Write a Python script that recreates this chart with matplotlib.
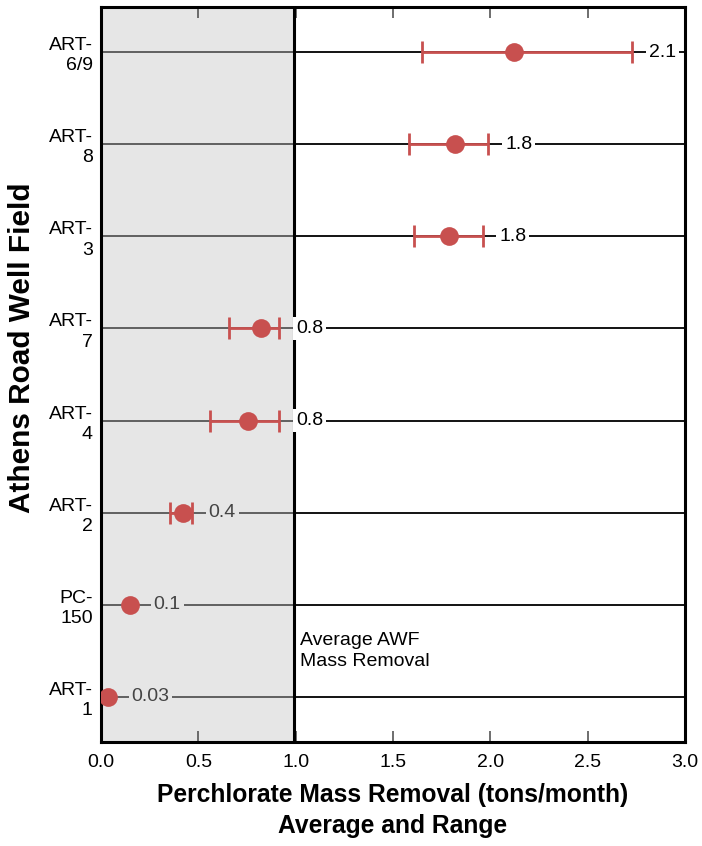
import matplotlib
matplotlib.use("Agg")
import matplotlib.pyplot as plt
import numpy as np

plt.rcParams['font.family'] = ['Liberation Sans', 'DejaVu Sans']

wells = ["ART-\n6/9", "ART-\n8", "ART-\n3", "ART-\n7", "ART-\n4", "ART-\n2", "PC-\n150", "ART-\n1"]
mean_vals = [2.12, 1.82, 1.79, 0.82, 0.755, 0.42, 0.149, 0.035]
low_vals = [1.65, 1.58, 1.61, 0.66, 0.56, 0.355, None, None]
high_vals = [2.73, 1.99, 1.96, 0.915, 0.915, 0.467, None, None]
value_labels = ["2.1", "1.8", "1.8", "0.8", "0.8", "0.4", "0.1", "0.03"]
avg_awf = 0.99
xticks = [0.0, 0.5, 1.0, 1.5, 2.0, 2.5, 3.0]
xtick_labels = ["0.0", "0.5", "1.0", "1.5", "2.0", "2.5", "3.0"]

red = "#c8504f"
shade = "#e6e6e6"

fig = plt.figure(figsize=(7.02, 8.46), dpi=100)
ax = fig.add_axes([0.1439, 0.123, 0.9758 - 0.1439, 0.9917 - 0.123])

n = len(wells)
ypos = np.arange(n)[::-1]
ax.set_xlim(0, 3.0)
ax.set_ylim(-0.49, n - 1 + 0.49)

ax.axvspan(0, avg_awf, color=shade, zorder=0, lw=0)

for i in range(n):
    y = ypos[i]
    ax.plot([0, avg_awf], [y, y], color="#555555", lw=1.3, zorder=1)
    ax.plot([avg_awf, 3.0], [y, y], color="black", lw=1.3, zorder=1)

ax.axvline(avg_awf, color="black", lw=2.2, zorder=2)

for i in range(n):
    y = ypos[i]
    m = mean_vals[i]
    if low_vals[i] is not None:
        ax.errorbar([m], [y], xerr=[[m - low_vals[i]], [high_vals[i] - m]],
                    fmt="none", ecolor=red, elinewidth=2.0, capsize=8,
                    capthick=2.0, zorder=4)
        anchor = high_vals[i]
        off = 12
    else:
        anchor = m
        off = 17
    ax.plot([m], [y], "o", color=red, markersize=13.5, zorder=5, mec="none")
    in_shade = anchor + 0.12 < avg_awf
    tc = "#444444" if in_shade else "black"
    fc = shade if in_shade else "white"
    ax.annotate(value_labels[i], xy=(anchor, y), xytext=(off, 0),
                textcoords="offset points", ha="left", va="center",
                fontsize=14, color=tc, zorder=6,
                bbox=dict(boxstyle="square,pad=0.15", fc=fc, ec="none"))

ax.text(avg_awf + 0.03, 0.5, "Average AWF\nMass Removal", ha="left",
        va="center", fontsize=14, linespacing=1.3, zorder=3)

ax.set_yticks(ypos)
ax.set_yticklabels(wells, fontsize=14, linespacing=1.25)
ax.tick_params(axis="y", length=0, pad=6)

ax.set_xticks(xticks)
ax.set_xticklabels(xtick_labels, fontsize=14)
ax.tick_params(axis="x", direction="in", length=8, width=1.2,
               top=True, color="#555555", pad=9)

for s in ax.spines.values():
    s.set_linewidth(2.2)
    s.set_color("black")

ax.set_xlabel("Perchlorate Mass Removal (tons/month)\nAverage and Range",
              fontsize=17.7, fontweight="bold", linespacing=1.35)
ax.xaxis.set_label_coords(0.5, -0.056)
ax.set_ylabel("Athens Road Well Field", fontsize=21.4, fontweight="bold")
ax.yaxis.set_label_coords(-0.112, 0.536)

fig.savefig("out.png", dpi=100)
